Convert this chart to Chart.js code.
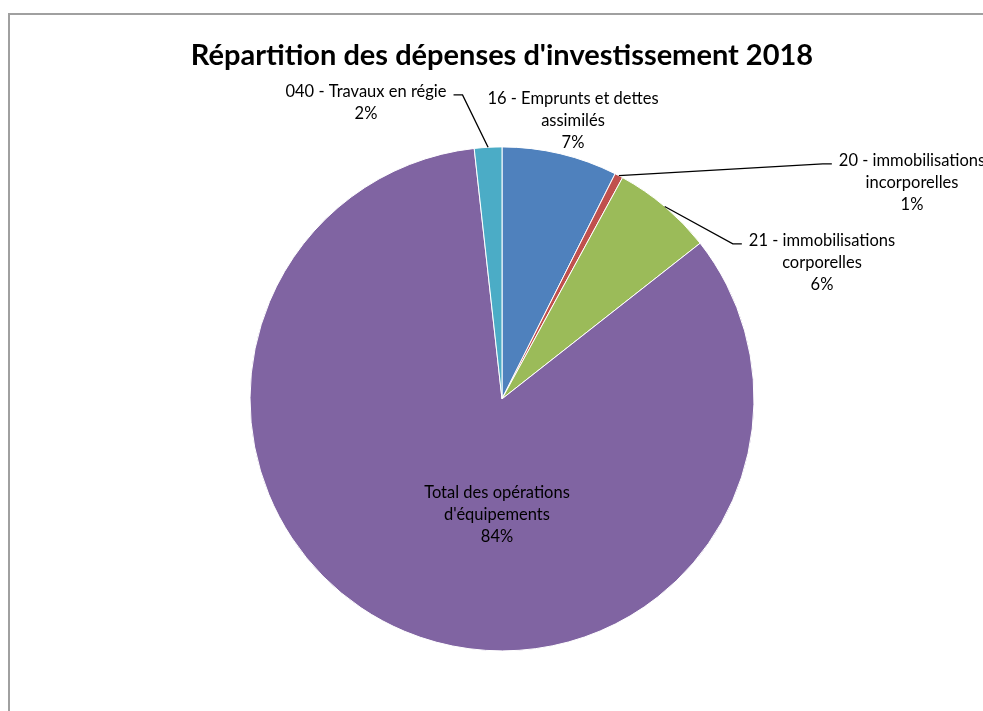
<!DOCTYPE html>
<html>
<head>
<meta charset="utf-8">
<script src="https://cdn.jsdelivr.net/npm/chart.js@4.4.1/dist/chart.umd.min.js"></script>
<style>
  html, body { margin: 0; padding: 0; background: #fff; overflow: hidden; }
  #frame { position: absolute; left: 8px; top: 13px; width: 1200px; height: 1000px;
           border-left: 2px solid #a0a0a0; border-top: 2px solid #a0a0a0; }
  #wrap { position: absolute; left: 0; top: 0; width: 983px; height: 711px; }
</style>
</head>
<body>
<div id="frame"></div>
<div id="wrap"><canvas id="chart"></canvas></div>
<script>
/* Pie of 2018 investment spending, labels placed like the Excel original. */

const categories = [
  ['16 - Emprunts et dettes', 'assimilés'],
  ['20 - immobilisations', 'incorporelles'],
  ['21 - immobilisations', 'corporelles'],
  ['Total des opérations', "d'équipements"],
  ['040 - Travaux en régie'],
];
const shares = [7.41, 0.53, 6.46, 83.84, 1.76];
const sliceColors = ['#4F81BD', '#C0504D', '#9BBB59', '#8064A2', '#4BACC6'];

// where each data label sits, relative to the pie centre, and whether it gets a leader line
const labelSpots = [
  { dx: 71, dy: -278, leader: false },
  { dx: 410, dy: -216, leader: true },
  { dx: 320, dy: -136, leader: true },
  { dx: -5, dy: 116, leader: false },
  { dx: -136, dy: -296, leader: true },
];
const FONT = 'Lato, "Open Sans", sans-serif';
const LINE_H = 22;

const pieLabels = {
  id: 'pieLabels',
  afterDatasetsDraw(chart) {
    const ctx = chart.ctx;
    const arcs = chart.getDatasetMeta(0).data;
    const values = chart.data.datasets[0].data;
    const total = values.reduce((a, b) => a + b, 0);
    ctx.save();
    ctx.font = `16.5px ${FONT}`;
    ctx.fillStyle = '#000';
    ctx.strokeStyle = '#000';
    ctx.lineWidth = 1.3;
    ctx.textAlign = 'center';
    ctx.textBaseline = 'middle';
    arcs.forEach((arc, i) => {
      const { x, y, startAngle, endAngle, outerRadius } =
        arc.getProps(['x', 'y', 'startAngle', 'endAngle', 'outerRadius'], true);
      const spot = labelSpots[i];
      const lines = [...chart.data.labels[i], Math.round(values[i] / total * 100) + '%'];
      const cx = x + spot.dx;
      const top = y + spot.dy - (lines.length - 1) * LINE_H / 2;
      lines.forEach((t, k) => ctx.fillText(t, cx, top + k * LINE_H));

      if (spot.leader) {
        const mid = (startAngle + endAngle) / 2;
        const sx = x + Math.cos(mid) * outerRadius;
        const sy = y + Math.sin(mid) * outerRadius;
        const w = ctx.measureText(lines[0]).width;
        const toRight = cx > sx;
        const ax = toRight ? cx - w / 2 - 7 : cx + w / 2 + 7;
        const ay = top + 3;
        const ex = toRight ? ax - 9 : ax + 9;
        ctx.beginPath();
        ctx.moveTo(sx, sy);
        ctx.lineTo(ex, ay);
        ctx.lineTo(ax, ay);
        ctx.stroke();
      }
    });
    ctx.restore();
  }
};

new Chart(document.getElementById('chart'), {
  type: 'pie',
  data: {
    labels: categories,
    datasets: [{
      data: shares,
      backgroundColor: sliceColors,
      borderColor: '#fff',
      borderWidth: 1,
    }],
  },
  options: {
    responsive: true,
    maintainAspectRatio: false,
    animation: false,
    radius: 252,
    layout: { padding: { left: 21, right: 0, top: 0, bottom: 0 } },
    plugins: {
      legend: { display: false },
      tooltip: { enabled: false },
      title: {
        display: true,
        text: "Répartition des dépenses d'investissement 2018",
        color: '#000',
        font: { family: FONT, size: 29, weight: 'bold' },
        padding: { top: 38, bottom: 14 },
      },
    },
  },
  plugins: [pieLabels],
});
</script>
</body>
</html>
